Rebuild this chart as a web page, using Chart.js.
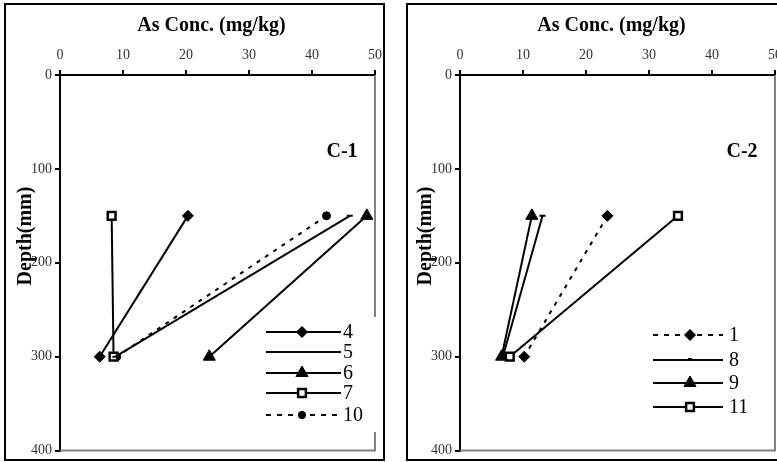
<!DOCTYPE html>
<html><head><meta charset="utf-8">
<script src="https://cdn.jsdelivr.net/npm/chart.js@4.4.1/dist/chart.umd.min.js"></script>
<style>
html,body{margin:0;padding:0;background:#fff;width:777px;height:462px;overflow:hidden;position:relative;}
.box{position:absolute;border:2px solid #000;box-sizing:border-box;}
canvas{position:absolute;top:0;left:0;}
.wrap{position:absolute;top:0;height:462px;}
</style></head><body>
<div class="box" style="left:4px;top:3px;width:381px;height:458px"></div>
<div class="box" style="left:406px;top:3px;width:400px;height:458px"></div>
<div class="wrap" style="left:0;width:388px"><canvas id="c1" width="388" height="462"></canvas></div>
<div class="wrap" style="left:388px;width:400px"><canvas id="c2" width="400" height="462"></canvas></div>
<script>
// ---- data ----
const depths = [150, 300];
const xTicks = [0, 10, 20, 30, 40, 50];
const yTicks = [0, 100, 200, 300, 400];
const xTitle = 'As Conc. (mg/kg)';
const yTitle = 'Depth(mm)';

const c1Name = 'C-1';
const c1Labels = ['4', '5', '6', '7', '10'];
const c1_s4 = [20.3, 6.3];
const c1_s5 = [46.0, 8.8];
const c1_s6 = [48.7, 23.7];
const c1_s7 = [8.2, 8.5];
const c1_s10 = [42.3, 9.0];

const c2Name = 'C-2';
const c2Labels = ['1', '8', '9', '11'];
const c2_s1 = [23.4, 10.2];
const c2_s8 = [13.1, 6.8];
const c2_s9 = [11.4, 6.6];
const c2_s11 = [34.6, 7.9];

// ---- styles ----
const FONT = "'Liberation Serif','Times New Roman',serif";
const STY = {
  diamond: {pointStyle: 'rectRot', pointRadius: 5.5, pointBackgroundColor: '#000', pointBorderColor: '#000', pointBorderWidth: 1},
  dash: {pointStyle: 'line', pointRadius: 3, pointBackgroundColor: '#000', pointBorderColor: '#000', pointBorderWidth: 2},
  tri: {pointStyle: 'triangle', pointRadius: 7, pointBackgroundColor: '#000', pointBorderColor: '#000', pointBorderWidth: 1},
  square: {pointStyle: 'rect', pointRadius: 5.5, pointBackgroundColor: '#fff', pointBorderColor: '#000', pointBorderWidth: 2.5},
  circle: {pointStyle: 'circle', pointRadius: 4, pointBackgroundColor: '#000', pointBorderColor: '#000', pointBorderWidth: 1}
};

function ds(label, vals, marker, dashed) {
  return Object.assign({
    label: label,
    data: vals.map((v, i) => ({x: v, y: depths[i]})),
    showLine: true,
    borderColor: '#000',
    borderWidth: 2,
    borderDash: dashed ? [4, 6] : [],
    fill: false,
    _marker: marker,
    _dashed: !!dashed
  }, STY[marker]);
}

function drawMarker(ctx, marker, x, y) {
  const s = STY[marker];
  const r = s.pointRadius;
  ctx.save();
  ctx.fillStyle = s.pointBackgroundColor;
  ctx.strokeStyle = s.pointBorderColor;
  ctx.lineWidth = s.pointBorderWidth;
  ctx.setLineDash([]);
  ctx.beginPath();
  if (marker === 'diamond') {
    ctx.moveTo(x, y - r); ctx.lineTo(x + r, y); ctx.lineTo(x, y + r); ctx.lineTo(x - r, y); ctx.closePath();
    ctx.fill(); ctx.stroke();
  } else if (marker === 'tri') {
    ctx.moveTo(x, y - r); ctx.lineTo(x + r * 0.866, y + r * 0.5); ctx.lineTo(x - r * 0.866, y + r * 0.5); ctx.closePath();
    ctx.fill(); ctx.stroke();
  } else if (marker === 'square') {
    const h = r * 0.707;
    ctx.rect(x - h, y - h, 2 * h, 2 * h);
    ctx.fill(); ctx.stroke();
  } else if (marker === 'circle') {
    ctx.arc(x, y, r, 0, Math.PI * 2);
    ctx.fill();
  } else if (marker === 'dash') {
    ctx.fillRect(x - 2, y - 2, 4, 2);
  }
  ctx.restore();
}

function makeChart(id, name, datasets, cfg) {
  const plugin = {
    id: 'decor_' + id,
    beforeDatasetsDraw(chart) {
      const ctx = chart.ctx, a = chart.chartArea;
      ctx.save();
      ctx.strokeStyle = '#808080';
      ctx.lineWidth = 2;
      ctx.beginPath();
      ctx.moveTo(a.right, a.top);
      ctx.lineTo(a.right, a.bottom);
      ctx.lineTo(a.left, a.bottom);
      ctx.stroke();
      ctx.restore();
    },
    afterDraw(chart) {
      const ctx = chart.ctx, a = chart.chartArea;
      ctx.save();
      ctx.fillStyle = '#000';
      ctx.font = 'bold 20px ' + FONT;
      ctx.textAlign = 'center';
      ctx.textBaseline = 'middle';
      ctx.fillText(xTitle, (a.left + a.right) / 2 - 6, 26);
      ctx.fillText(name, a.right - 33, 152);
      ctx.save();
      ctx.translate(a.left - 34, 236);
      ctx.rotate(-Math.PI / 2);
      ctx.fillText(yTitle, 0, 0);
      ctx.restore();
      const L = cfg.legend;
      if (L.bg) {
        ctx.fillStyle = '#fff';
        ctx.fillRect(a.right + L.bg[0], L.bg[1], L.bg[2], L.bg[3]);
      }
      datasets.forEach((d, i) => {
        const y = L.ys[i];
        const x0 = a.right + L.x0, x1 = a.right + L.x1, xm = a.right + L.xm;
        ctx.strokeStyle = '#000';
        ctx.lineWidth = 2;
        ctx.setLineDash(d._dashed ? [5, 6] : []);
        ctx.beginPath();
        ctx.moveTo(x0, y); ctx.lineTo(x1, y);
        ctx.stroke();
        ctx.setLineDash([]);
        if (d._marker !== 'dash' || L.showDash) drawMarker(ctx, d._marker, xm, y);
        ctx.fillStyle = '#000';
        ctx.font = '20px ' + FONT;
        ctx.textAlign = 'left';
        ctx.textBaseline = 'middle';
        ctx.fillText(d.label, a.right + L.xt, y + 1);
      });
      ctx.restore();
    }
  };
  return new Chart(document.getElementById(id), {
    type: 'scatter',
    data: {datasets: datasets},
    options: {
      responsive: false,
      animation: false,
      layout: {padding: cfg.padding},
      plugins: {legend: {display: false}, tooltip: {enabled: false}},
      scales: {
        x: {
          type: 'linear', position: 'top', min: 0, max: 50,
          afterBuildTicks: s => { s.ticks = xTicks.map(v => ({value: v})); },
          afterFit: s => { s.height = 35; },
          grid: {drawOnChartArea: false, drawTicks: true, tickLength: 5, color: '#000', lineWidth: 2},
          border: {display: true, color: '#000', width: 2},
          ticks: {color: '#333', font: {family: FONT, size: 14}, padding: 6, maxRotation: 0}
        },
        y: {
          type: 'linear', reverse: true, min: 0, max: 400,
          afterBuildTicks: s => { s.ticks = yTicks.map(v => ({value: v})); },
          afterFit: s => { s.width = 40; },
          grid: {drawOnChartArea: false, drawTicks: true, tickLength: 5, color: '#000', lineWidth: 2},
          border: {display: true, color: '#000', width: 2},
          ticks: {color: '#333', font: {family: FONT, size: 14}, padding: 3}
        }
      }
    },
    plugins: [plugin]
  });
}

makeChart('c1', c1Name, [
  ds(c1Labels[0], c1_s4, 'diamond', false),
  ds(c1Labels[1], c1_s5, 'dash', false),
  ds(c1Labels[2], c1_s6, 'tri', false),
  ds(c1Labels[3], c1_s7, 'square', false),
  ds(c1Labels[4], c1_s10, 'circle', true)
], {
  padding: {left: 20, right: 12, top: 40, bottom: 10},
  legend: {x0: -109, x1: -34, xm: -73, xt: -32, ys: [332, 352, 373, 393, 415], bg: [-114, 317, 118, 115], showDash: false}
});

makeChart('c2', c2Name, [
  ds(c2Labels[0], c2_s1, 'diamond', true),
  ds(c2Labels[1], c2_s8, 'dash', false),
  ds(c2Labels[2], c2_s9, 'tri', false),
  ds(c2Labels[3], c2_s11, 'square', false)
], {
  padding: {left: 32, right: 13, top: 40, bottom: 10},
  legend: {x0: -122, x1: -52, xm: -85, xt: -46, ys: [335, 360, 383, 407], bg: null, showDash: true}
});
</script>
</body></html>
